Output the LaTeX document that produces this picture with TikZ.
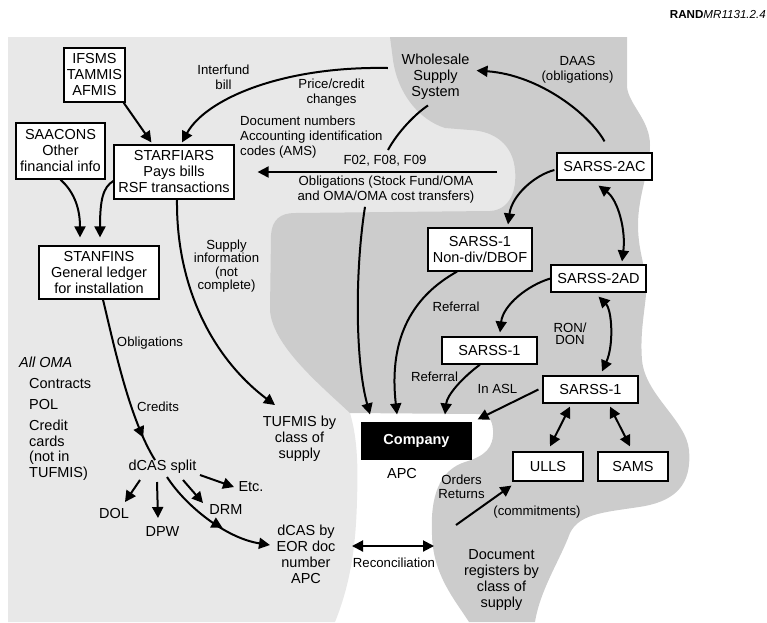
\documentclass[tikz,border=0pt]{standalone}
\usepackage{fontspec}
\setmainfont{Liberation Sans}
\usetikzlibrary{arrows.meta,decorations.markings}

\definecolor{paleregion}{HTML}{E8E8E8}
\definecolor{darkregion}{HTML}{CCCCCC}

\begin{document}
\begin{tikzpicture}[x=1pt,y=-1pt,
  box/.style={draw, fill=white, line width=1.2pt, align=center, inner sep=0pt,
    font=\fontsize{14.5}{16}\selectfont},
  lbl/.style={inner sep=0pt, align=center, font=\fontsize{13.2}{15}\selectfont},
  ent/.style={inner sep=0pt, align=center, font=\fontsize{14.5}{16}\selectfont},
  tip/.tip={Triangle[length=11pt,width=11pt]},
  flow/.style={line width=2pt, -tip},
  twoway/.style={line width=2pt, tip-tip},
  plain/.style={line width=2pt},
  midtip/.style={postaction={decorate}, decoration={markings,
    mark=at position #1 with {\arrow{tip}}}},
]
\useasboundingbox (0,0) rectangle (767,622);

% shaded areas
\fill[paleregion] (8,37) -- (520,37) -- (520,300) -- (350,413)
  .. controls (358,440) and (358,470) .. (357,500)
  .. controls (356,540) and (352,580) .. (335,622) -- (8,622) -- cycle;

\fill[darkregion] (390,37) -- (627,37) -- (627,87)
  .. controls (629,105) and (650,120) .. (650,145)
  .. controls (650,170) and (638,195) .. (638,225)
  .. controls (638,255) and (648,270) .. (646,295)
  .. controls (644,315) and (640,335) .. (642,360)
  .. controls (645,395) and (686,420) .. (689,450)
  .. controls (692,485) and (675,500) .. (645,506)
  .. controls (610,512) and (580,512) .. (570,533)
  .. controls (560,560) and (540,590) .. (535,622)
  -- (469,622)
  .. controls (455,600) and (433,575) .. (432,535)
  .. controls (430,495) and (440,470) .. (465,462)
  .. controls (485,456) and (494,448) .. (493,430)
  .. controls (492,418) and (488,415) .. (478,414)
  -- (350,413)
  .. controls (320,385) and (272,345) .. (270,310)
  -- (271,235)
  .. controls (272,220) and (280,213) .. (295,213)
  -- (490,211)
  .. controls (510,210) and (517,190) .. (515,170)
  .. controls (513,145) and (495,131) .. (470,130)
  -- (445,128)
  .. controls (420,120) and (398,95) .. (393,60)
  -- cycle;

% header
\node[anchor=east, inner sep=0pt, font=\fontsize{11.6}{14}\selectfont] (rand) at (766,15)
  {\textbf{RAND}\textit{MR1131.2.4}};

% boxes
\node[box, minimum width=61pt, minimum height=54pt] (ifsms) at (94.5,75) {IFSMS\\TAMMIS\\AFMIS};
\node[box, minimum width=89pt, minimum height=56pt] (saacons) at (60.5,151) {SAACONS\\Other\\financial info};
\node[box, minimum width=120pt, minimum height=54pt] (starfiars) at (174,172) {STARFIARS\\Pays bills\\RSF transactions};
\node[box, minimum width=120pt, minimum height=53pt] (stanfins) at (99,272.5) {STANFINS\\General ledger\\for installation};
\node[box, minimum width=95pt, minimum height=27pt] (s2ac) at (604.5,166.5) {SARSS-2AC};
\node[box, minimum width=104pt, minimum height=43pt] (s1nd) at (480,249.5) {SARSS-1\\Non-div/DBOF};
\node[box, minimum width=95pt, minimum height=27pt] (s2ad) at (598.5,278.5) {SARSS-2AD};
\node[box, minimum width=95pt, minimum height=27pt] (s1m) at (489.5,350.5) {SARSS-1};
\node[box, minimum width=95pt, minimum height=27pt] (s1l) at (590.5,389.5) {SARSS-1};
\node[box, minimum width=70pt, minimum height=29pt] (ulls) at (548,466.5) {ULLS};
\node[box, minimum width=70pt, minimum height=29pt] (sams) at (633,466.5) {SAMS};
\node[box, fill=black, text=white, minimum width=109pt, minimum height=36pt,
  font=\fontsize{14.5}{16}\selectfont\bfseries] (company) at (416.5,441) {Company};

% free-standing texts
\node[ent] (wholesale) at (435.5,76.5) {Wholesale\\Supply\\System};
\node[lbl] (interfund) at (223.5,77) {Interfund\\bill};
\node[lbl] (price) at (331.5,93) {Price/credit\\changes};
\node[lbl, anchor=west, align=left] (docnums) at (240,137) {Document numbers\\Accounting identification\\codes (AMS)};
\node[lbl] (daas) at (577.5,69.5) {DAAS\\(obligations)};
\node[lbl] (fcodes) at (385,161) {F02, F08, F09};
\node[lbl] (oblband) at (386,190) {Obligations (Stock Fund/OMA\\and OMA/OMA cost transfers)};
\node[lbl, font=\fontsize{13.2}{13.4}\selectfont] (supply) at (226.5,266) {Supply\\information\\(not\\complete)};
\node[lbl] (obligations) at (150,343) {Obligations};
\node[lbl] (credits) at (158,407) {Credits};
\node[ent, anchor=west, font=\fontsize{14.5}{16}\selectfont\itshape] (alloma) at (19,362) {All OMA};
\node[ent, anchor=west] (contracts) at (29,383) {Contracts};
\node[ent, anchor=west] (pol) at (29,404) {POL};
\node[ent, anchor=west, align=left, font=\fontsize{14.5}{15.5}\selectfont] (cards) at (29,450) {Credit\\cards\\(not in\\TUFMIS)};
\node[ent] (tufmis) at (299.5,439) {TUFMIS by\\class of\\supply};
\node[ent] (dcas) at (162.5,467) {dCAS split};
\node[ent] (etc) at (251,487) {Etc.};
\node[ent] (dol) at (114,513) {DOL};
\node[ent] (dpw) at (162.5,531) {DPW};
\node[ent] (drm) at (226,509) {DRM};
\node[ent] (eor) at (306,554) {dCAS by\\EOR doc\\number\\APC};
\node[lbl] (recon) at (394,563) {Reconciliation};
\node[ent] (apc) at (402,473) {APC};
\node[lbl, font=\fontsize{13.2}{14}\selectfont] (orders) at (461.5,487) {Orders\\Returns};
\node[lbl] (commit) at (537,512) {(commitments)};
\node[ent] (docreg) at (501.5,580) {Document\\registers by\\class of\\supply};
\node[lbl] (referralA) at (456,307) {Referral};
\node[lbl, font=\fontsize{13.2}{12.5}\selectfont] (rondon) at (570,334) {RON/\\DON};
\node[lbl] (referralB) at (434.5,377) {Referral};
\node[lbl] (inasl) at (497.5,389) {In ASL};

% loose ends
\coordinate (fcodesend) at (388,150);
\coordinate (bandend) at (497,172);
\coordinate (ordfoot) at (456,525);
\coordinate (recL) at (352,546);
\coordinate (recR) at (434,546);

% connectors: finance side
\draw[flow] ([xshift=-2pt]ifsms.south east) -- ([xshift=38pt,yshift=2pt]starfiars.north west);
\draw[flow] ([xshift=-13.6pt,yshift=8.5pt]wholesale.west)
  .. controls (280,66) and (205,100) .. ([xshift=8pt,yshift=2pt]starfiars.north);
\draw[plain] ([xshift=-7.5pt,yshift=-6pt]wholesale.south)
  .. controls (415,114) and (397,133) .. (fcodesend);
\draw[flow] (bandend) -- ([xshift=23pt]starfiars.east);
\draw[flow] (saacons.south) .. controls (72,190) and (80,205) .. ([xshift=-19pt,yshift=8pt]stanfins.north);
\draw[flow] ([yshift=-9pt]starfiars.west) .. controls (103,187) and (100,200) .. ([xshift=1pt,yshift=8pt]stanfins.north);
\draw[flow] ([xshift=3pt]starfiars.south) .. controls (176,290) and (215,360) .. ([xshift=-24.5pt,yshift=11pt]tufmis.north);
\draw[plain, midtip=0.85] ([xshift=4pt]stanfins.south) .. controls (115,350) and (130,420) .. ([xshift=-7.5pt]dcas.north);

% dCAS split outputs
\draw[flow] ([xshift=-22.5pt,yshift=-13pt]dcas.center) -- ([xshift=11pt,yshift=11pt]dol.center);
\draw[flow] ([xshift=-5.5pt,yshift=-15pt]dcas.center) -- ([xshift=-4.5pt,yshift=13pt]dpw.center);
\draw[flow] ([xshift=20.5pt,yshift=-13pt]dcas.center) -- ([xshift=-23pt,yshift=6pt]drm.center);
\draw[flow] ([xshift=37.5pt,yshift=-8pt]dcas.center) -- ([xshift=-17pt]etc.center);
\draw[flow, midtip=0.6] ([xshift=4.5pt,yshift=-10pt]dcas.center)
  .. controls (185,505) and (225,538) .. ([xshift=-36pt,yshift=9pt]eor.center);
\draw[twoway] (recL) -- (recR);

% connectors: supply side
\draw[flow] ([yshift=11pt]s2ac.north) .. controls (590,115) and (540,75) .. ([xshift=7pt,yshift=6pt]wholesale.east);
\draw[flow] ([xshift=-2pt,yshift=-3.5pt]s2ac.west) .. controls (535,175) and (512,195) .. ([xshift=28pt,yshift=3pt]s1nd.north);
\draw[twoway] ([xshift=-6pt,yshift=-5pt]s2ac.south) .. controls (618,200) and (626,230) .. ([xshift=23.5pt,yshift=3pt]s2ad.north);
\draw[twoway] ([yshift=-4pt]s2ad.south) .. controls (612,310) and (614,345) .. ([xshift=11.5pt,yshift=4pt]s1l.north);
\draw[flow] (s2ad.west) .. controls (528,285) and (503,305) .. ([xshift=10.5pt,yshift=4pt]s1m.north);
\draw[flow] ([xshift=-23pt]s1nd.south) .. controls (415,295) and (388,335) .. ([xshift=-19.5pt,yshift=8pt]company.north);
\draw[flow] ([xshift=-9.5pt]s1m.south) .. controls (462,378) and (447,395) .. ([xshift=28.5pt,yshift=8pt]company.north);
\draw[flow] ([xshift=-4pt]s1l.west) -- ([xshift=6pt,yshift=3pt]company.north east);
\draw[flow] ([xshift=-21pt,yshift=-3pt]oblband.south) .. controls (355,270) and (355,360) .. ([xshift=-46.5pt,yshift=8pt]company.north);
\draw[twoway] ([xshift=-20.5pt,yshift=-3pt]s1l.south) -- ([xshift=2pt,yshift=5pt]ulls.north);
\draw[twoway] ([xshift=19.5pt,yshift=-3pt]s1l.south) -- ([xshift=-3pt,yshift=5pt]sams.north);
\draw[flow] (ordfoot) -- ([xshift=-1pt,yshift=-4pt]ulls.south west);
\end{tikzpicture}
\end{document}
